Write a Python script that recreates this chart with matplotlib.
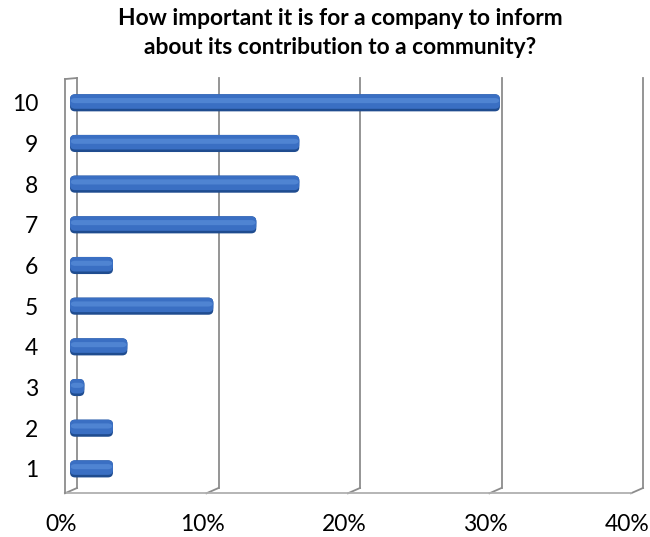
import matplotlib.pyplot as plt
from matplotlib.patches import FancyBboxPatch
from matplotlib.transforms import blended_transform_factory, offset_copy

plt.rcParams['font.family'] = ['Lato', 'DejaVu Sans']

scores = [1, 2, 3, 4, 5, 6, 7, 8, 9, 10]
shares = [3, 3, 1, 4, 10, 3, 13, 16, 16, 30]
pct_ticks = [0, 10, 20, 30, 40]
pct_labels = ['0%', '10%', '20%', '30%', '40%']

title = ('How important it is for a company to inform\n'
         'about its contribution to a community?')

W, H = 650, 537
fig = plt.figure(figsize=(W / 100, H / 100), dpi=100)

# back wall (gridlines) and the mid-depth plane the bars live on
wall = fig.add_axes([77 / W, 49 / H, 566 / W, 410 / H])
bars = fig.add_axes([70 / W, 49 / H, 573.2 / W, 410 / H])
for a in (wall, bars):
    a.set_xlim(0, 40)
    a.set_ylim(0.53, 10.61)
    a.patch.set_visible(False)
    for s in a.spines.values():
        s.set_visible(False)
    a.set_xticks([])
wall.set_yticks([])

# pseudo-3D depth: front edges sit a bit left of and below the back wall
dx, dy = -0.85, -0.13
y0, y1 = wall.get_ylim()
grid_kw = dict(color='#8c8c8c', lw=1.3, clip_on=False, zorder=1)
for x in pct_ticks:
    wall.plot([x, x], [y0, y1], **grid_kw)
    wall.plot([x, x + dx], [y0, y0 + dy], **grid_kw)
wall.plot([dx, 40 + dx], [y0 + dy, y0 + dy], color='#b0b0b0', lw=1.3,
          clip_on=False, zorder=1)
# left wall, seen edge-on
wall.plot([dx, dx], [y0 + dy, y1 + dy * 0.2], **grid_kw)
wall.plot([0, dx], [y1, y1 + dy * 0.2], **grid_kw)

# rounded bars: dark underside, main face, light streak
h = 0.42
base = bars.barh(scores, shares, height=h, color='none')


def rounded(rect, shrink, color, lift=0.0, z=3):
    x, y = rect.get_x(), rect.get_y()
    w, hh = rect.get_width(), rect.get_height()
    nh = hh * shrink
    ny = y + (hh - nh) + lift
    p = FancyBboxPatch((x, ny), w, nh,
                       boxstyle='round,pad=0,rounding_size=%.3f'
                       % min(0.35, w / 2),
                       mutation_aspect=0.35, fc=color, ec='none', zorder=z)
    bars.add_patch(p)


for r in base:
    rounded(r, 1.0, '#1f4c8f', z=3)
    rounded(r, 0.85, '#3a6fc3', z=4)
    rounded(r, 0.3, '#4f84d2', lift=-h * 0.22, z=5)

bars.set_yticks(scores)
bars.set_yticklabels([str(s) for s in scores])
bars.tick_params(axis='y', length=0, pad=23, labelsize=16.5)

tr = offset_copy(blended_transform_factory(wall.transData, wall.transAxes),
                 fig=fig, x=-16, y=0, units='dots')
for x, lab in zip(pct_ticks, pct_labels):
    wall.text(x, -0.09, lab, transform=tr, ha='center', va='center',
              fontsize=16.5)

fig.text(0.523, 0.985, title, ha='center', va='top', fontsize=16.4,
         fontweight='bold', linespacing=1.45)

fig.savefig('out.png', dpi=100)
